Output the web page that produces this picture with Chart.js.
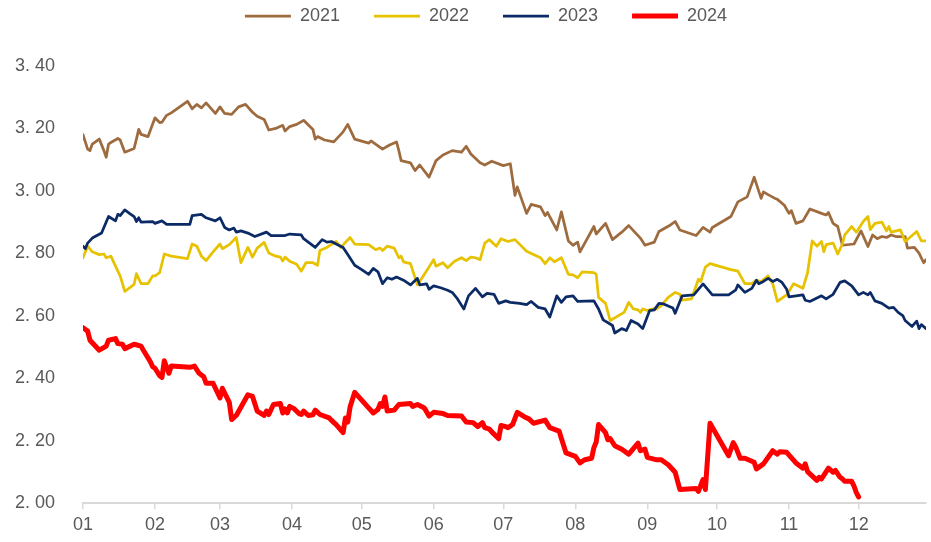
<!DOCTYPE html>
<html>
<head>
<meta charset="utf-8">
<title>2021-2024</title>
<script src="https://cdn.jsdelivr.net/npm/chart.js@4.4.1/dist/chart.umd.min.js"></script>
<style>
    html, body { margin: 0; padding: 0; background: #ffffff; }
    #yieldChart { display: block; }
</style>
</head>
<body>
<canvas id="yieldChart" width="931" height="542"></canvas>
<script>
/* ==========================================
   Daily yield by calendar year, 2021-2024
   x = day of year (0 = 1 Jan), y = yield
   ========================================== */

const monthStarts = [0, 31, 59, 90, 120, 151, 181, 212, 243, 273, 304, 334];
const monthLabels = ['01', '02', '03', '04', '05', '06', '07', '08', '09', '10', '11', '12'];
const seriesNames = ['2021', '2022', '2023', '2024'];

const days2021 = [0, 2, 3, 4, 7, 9, 10, 11, 12, 15, 16, 18, 22, 23, 24, 25, 28, 31, 33, 34, 36, 38, 45, 47, 49, 51, 53, 57, 59, 61, 64, 67, 70, 73, 75, 78, 80, 83, 86, 87, 89, 92, 95, 99, 100, 101, 104, 108, 111, 112, 114, 117, 123, 124, 129, 132, 135, 136, 137, 141, 143, 145, 149, 152, 155, 159, 163, 165, 167, 171, 173, 176, 181, 184, 186, 187, 191, 193, 197, 199, 200, 204, 206, 209, 211, 213, 214, 220, 221, 225, 228, 232, 235, 240, 242, 246, 248, 253, 255, 257, 264, 267, 270, 271, 279, 282, 286, 289, 292, 293, 295, 298, 299, 302, 304, 305, 307, 310, 313, 318, 320, 321, 323, 325, 327, 332, 335, 338, 340, 342, 344, 346, 348, 350, 354, 355, 358, 360, 362, 363];
const rate2021 = [3.180, 3.134, 3.129, 3.150, 3.166, 3.129, 3.108, 3.150, 3.155, 3.168, 3.163, 3.124, 3.136, 3.166, 3.197, 3.181, 3.174, 3.234, 3.219, 3.220, 3.242, 3.250, 3.287, 3.263, 3.277, 3.266, 3.282, 3.248, 3.269, 3.248, 3.245, 3.269, 3.277, 3.252, 3.239, 3.229, 3.195, 3.200, 3.210, 3.192, 3.206, 3.213, 3.226, 3.197, 3.166, 3.174, 3.163, 3.157, 3.181, 3.189, 3.213, 3.166, 3.153, 3.160, 3.134, 3.147, 3.157, 3.129, 3.097, 3.090, 3.065, 3.083, 3.044, 3.097, 3.115, 3.129, 3.124, 3.143, 3.118, 3.090, 3.083, 3.095, 3.081, 3.087, 2.986, 3.013, 2.928, 2.957, 2.949, 2.921, 2.931, 2.875, 2.933, 2.840, 2.826, 2.836, 2.805, 2.886, 2.862, 2.896, 2.844, 2.868, 2.889, 2.849, 2.826, 2.836, 2.870, 2.891, 2.902, 2.875, 2.857, 2.883, 2.868, 2.883, 2.918, 2.965, 2.981, 3.044, 2.976, 2.997, 2.988, 2.976, 2.973, 2.954, 2.928, 2.937, 2.896, 2.904, 2.942, 2.928, 2.923, 2.931, 2.896, 2.886, 2.826, 2.830, 2.872, 2.822, 2.859, 2.847, 2.854, 2.851, 2.859, 2.854, 2.854, 2.817, 2.819, 2.801, 2.770, 2.780];

const days2022 = [0, 2, 4, 7, 9, 10, 12, 15, 16, 18, 22, 23, 25, 28, 30, 31, 33, 35, 38, 45, 47, 49, 51, 53, 56, 59, 60, 63, 66, 68, 71, 73, 75, 78, 80, 83, 85, 86, 87, 89, 92, 94, 96, 99, 101, 102, 105, 109, 111, 115, 117, 123, 126, 128, 129, 131, 134, 136, 137, 138, 141, 144, 147, 151, 152, 155, 157, 160, 163, 165, 167, 169, 171, 173, 175, 178, 180, 183, 186, 191, 197, 199, 201, 203, 206, 209, 211, 213, 215, 220, 221, 222, 225, 227, 233, 235, 237, 239, 240, 241, 243, 245, 247, 249, 252, 255, 257, 258, 262, 265, 266, 268, 270, 279, 282, 285, 288, 290, 292, 295, 297, 299, 303, 306, 310, 312, 314, 316, 318, 319, 320, 323, 325, 327, 328, 331, 333, 336, 338, 339, 341, 344, 346, 347, 348, 352, 354, 359, 361, 363];
const rate2022 = [2.786, 2.823, 2.805, 2.796, 2.798, 2.786, 2.791, 2.743, 2.728, 2.678, 2.701, 2.735, 2.703, 2.703, 2.728, 2.728, 2.738, 2.798, 2.791, 2.783, 2.830, 2.823, 2.791, 2.777, 2.805, 2.830, 2.815, 2.828, 2.851, 2.770, 2.819, 2.788, 2.817, 2.835, 2.801, 2.791, 2.788, 2.775, 2.788, 2.775, 2.765, 2.743, 2.770, 2.770, 2.762, 2.809, 2.819, 2.838, 2.819, 2.851, 2.830, 2.828, 2.812, 2.817, 2.809, 2.823, 2.817, 2.786, 2.791, 2.773, 2.767, 2.699, 2.733, 2.780, 2.759, 2.770, 2.754, 2.775, 2.786, 2.777, 2.788, 2.786, 2.780, 2.833, 2.844, 2.823, 2.847, 2.838, 2.844, 2.807, 2.786, 2.767, 2.786, 2.773, 2.786, 2.733, 2.731, 2.722, 2.741, 2.738, 2.733, 2.659, 2.640, 2.585, 2.611, 2.643, 2.622, 2.619, 2.611, 2.622, 2.617, 2.622, 2.622, 2.633, 2.659, 2.675, 2.669, 2.650, 2.654, 2.717, 2.710, 2.756, 2.767, 2.748, 2.743, 2.703, 2.703, 2.714, 2.710, 2.728, 2.703, 2.646, 2.667, 2.703, 2.688, 2.738, 2.840, 2.823, 2.838, 2.805, 2.828, 2.833, 2.798, 2.830, 2.859, 2.886, 2.868, 2.902, 2.918, 2.876, 2.896, 2.900, 2.872, 2.886, 2.868, 2.875, 2.838, 2.870, 2.840, 2.840];

const days2023 = [0, 1, 2, 4, 8, 11, 14, 15, 16, 18, 20, 22, 23, 24, 25, 30, 31, 34, 36, 46, 47, 51, 53, 57, 59, 61, 63, 65, 66, 68, 71, 74, 79, 81, 87, 89, 94, 95, 100, 103, 105, 107, 109, 112, 114, 117, 120, 123, 125, 127, 129, 131, 133, 135, 138, 141, 144, 145, 148, 149, 151, 154, 157, 159, 161, 164, 166, 169, 172, 174, 177, 179, 182, 184, 188, 191, 193, 196, 199, 201, 204, 206, 208, 211, 213, 220, 222, 224, 228, 229, 232, 234, 236, 239, 241, 244, 246, 248, 250, 254, 255, 258, 263, 267, 271, 278, 281, 282, 285, 288, 290, 291, 293, 295, 297, 299, 301, 303, 304, 307, 310, 311, 313, 318, 320, 323, 326, 328, 331, 334, 336, 338, 339, 341, 344, 347, 349, 351, 353, 354, 357, 359, 360, 361, 363];
const rate2023 = [2.823, 2.815, 2.833, 2.849, 2.865, 2.918, 2.904, 2.925, 2.921, 2.939, 2.928, 2.918, 2.902, 2.914, 2.900, 2.902, 2.896, 2.904, 2.893, 2.893, 2.921, 2.925, 2.914, 2.904, 2.914, 2.883, 2.875, 2.881, 2.868, 2.872, 2.865, 2.854, 2.868, 2.857, 2.857, 2.862, 2.859, 2.847, 2.819, 2.844, 2.836, 2.838, 2.830, 2.819, 2.796, 2.762, 2.748, 2.733, 2.752, 2.741, 2.703, 2.722, 2.717, 2.724, 2.714, 2.699, 2.720, 2.699, 2.702, 2.685, 2.696, 2.690, 2.682, 2.675, 2.657, 2.622, 2.664, 2.688, 2.661, 2.672, 2.669, 2.640, 2.648, 2.643, 2.640, 2.636, 2.646, 2.627, 2.622, 2.596, 2.664, 2.643, 2.661, 2.664, 2.646, 2.648, 2.622, 2.587, 2.569, 2.545, 2.559, 2.553, 2.585, 2.574, 2.559, 2.617, 2.619, 2.640, 2.638, 2.625, 2.608, 2.664, 2.667, 2.702, 2.667, 2.667, 2.682, 2.699, 2.675, 2.688, 2.714, 2.703, 2.710, 2.720, 2.710, 2.717, 2.707, 2.685, 2.661, 2.664, 2.667, 2.650, 2.646, 2.664, 2.654, 2.669, 2.707, 2.712, 2.696, 2.667, 2.675, 2.667, 2.675, 2.648, 2.640, 2.625, 2.627, 2.611, 2.601, 2.585, 2.566, 2.583, 2.559, 2.572, 2.559];

const days2024 = [0, 2, 3, 5, 7, 10, 11, 14, 15, 17, 18, 22, 25, 26, 29, 30, 31, 33, 34, 35, 37, 38, 46, 48, 50, 52, 53, 56, 59, 60, 63, 64, 66, 71, 73, 75, 78, 79, 80, 82, 85, 86, 87, 88, 89, 91, 93, 94, 95, 97, 99, 100, 102, 106, 108, 109, 112, 113, 114, 115, 117, 123, 125, 127, 128, 129, 130, 131, 134, 136, 141, 142, 144, 147, 149, 151, 155, 157, 163, 165, 168, 170, 172, 173, 175, 177, 179, 180, 182, 183, 185, 187, 190, 192, 194, 199, 201, 205, 206, 208, 212, 214, 216, 219, 220, 221, 222, 225, 226, 227, 229, 232, 235, 239, 240, 242, 243, 247, 249, 252, 255, 257, 264, 265, 267, 268, 270, 278, 280, 281, 283, 285, 289, 290, 293, 297, 299, 300, 303, 307, 310, 311, 312, 316, 317, 318, 321, 323, 324, 326, 327, 328, 331, 332, 333, 334];
const rate2024 = [2.562, 2.551, 2.522, 2.506, 2.490, 2.503, 2.522, 2.527, 2.511, 2.509, 2.495, 2.509, 2.503, 2.490, 2.453, 2.437, 2.432, 2.408, 2.403, 2.456, 2.416, 2.439, 2.435, 2.439, 2.416, 2.405, 2.384, 2.384, 2.337, 2.368, 2.323, 2.268, 2.281, 2.347, 2.342, 2.295, 2.281, 2.295, 2.284, 2.316, 2.319, 2.289, 2.302, 2.289, 2.310, 2.302, 2.287, 2.284, 2.295, 2.281, 2.283, 2.298, 2.284, 2.273, 2.258, 2.252, 2.226, 2.273, 2.260, 2.308, 2.355, 2.305, 2.289, 2.300, 2.319, 2.310, 2.340, 2.295, 2.298, 2.316, 2.319, 2.310, 2.316, 2.305, 2.279, 2.291, 2.287, 2.281, 2.279, 2.260, 2.258, 2.245, 2.258, 2.242, 2.237, 2.221, 2.207, 2.249, 2.245, 2.242, 2.252, 2.291, 2.277, 2.270, 2.256, 2.266, 2.242, 2.231, 2.207, 2.161, 2.150, 2.129, 2.139, 2.144, 2.178, 2.196, 2.252, 2.226, 2.203, 2.207, 2.184, 2.173, 2.157, 2.192, 2.168, 2.173, 2.147, 2.139, 2.139, 2.123, 2.099, 2.044, 2.047, 2.038, 2.076, 2.044, 2.256, 2.152, 2.194, 2.181, 2.144, 2.144, 2.131, 2.110, 2.126, 2.168, 2.157, 2.165, 2.163, 2.129, 2.112, 2.126, 2.101, 2.073, 2.083, 2.078, 2.112, 2.099, 2.105, 2.083, 2.078, 2.070, 2.070, 2.055, 2.034, 2.020];

const labelColor = '#595959';
const labelFont = { family: "'Liberation Sans', Arial, sans-serif", size: 18 };

// pairs day/value arrays into {x, y} points for the linear x axis
function toPoints(days, rates) {
    return days.map((d, i) => ({ x: d, y: rates[i] }));
}

// legend sits inside a taller box so the plot starts lower on the page,
// and its row is nudged right a little
const legendSpacer = {
    id: 'legendSpacer',
    beforeInit(chart) {
        const baseFit = chart.legend.fit;
        chart.legend.fit = function () {
            baseFit.call(this);
            this.height = 93;
            if (this.lineWidths && this.lineWidths.length) {
                this.lineWidths[0] -= 46;
            }
        };
    }
};

document.addEventListener("DOMContentLoaded", () => {
    const ctx = document.getElementById("yieldChart");

    new Chart(ctx, {
        type: 'line',
        data: {
            datasets: [
                { label: seriesNames[0], data: toPoints(days2021, rate2021), borderColor: '#9E6B3F', backgroundColor: '#9E6B3F', borderWidth: 2.75, order: 4 },
                { label: seriesNames[1], data: toPoints(days2022, rate2022), borderColor: '#E6C200', backgroundColor: '#E6C200', borderWidth: 2.75, order: 3 },
                { label: seriesNames[2], data: toPoints(days2023, rate2023), borderColor: '#0B2A66', backgroundColor: '#0B2A66', borderWidth: 2.75, order: 2 },
                { label: seriesNames[3], data: toPoints(days2024, rate2024), borderColor: '#FF0000', backgroundColor: '#FF0000', borderWidth: 5, order: 1 }
            ]
        },
        options: {
            responsive: false,
            animation: false,
            layout: {
                padding: { top: -27, left: 0, right: 5, bottom: 0 }
            },
            elements: {
                point: { radius: 0, hoverRadius: 0 },
                line: { tension: 0, fill: false, borderJoinStyle: 'round', borderCapStyle: 'round' }
            },
            plugins: {
                legend: {
                    position: 'top',
                    align: 'center',
                    labels: {
                        usePointStyle: true,
                        pointStyle: 'line',
                        pointStyleWidth: 46,
                        padding: 34,
                        color: labelColor,
                        font: labelFont,
                        sort: (a, b) => a.datasetIndex - b.datasetIndex
                    }
                },
                tooltip: { enabled: false }
            },
            scales: {
                x: {
                    type: 'linear',
                    min: 0,
                    max: 363,
                    afterBuildTicks: (scale) => {
                        scale.ticks = monthStarts.map(v => ({ value: v }));
                    },
                    afterFit: (scale) => {
                        scale.height = 34;
                    },
                    ticks: {
                        autoSkip: false,
                        maxRotation: 0,
                        padding: 5,
                        color: labelColor,
                        font: labelFont,
                        callback: function(value) {
                            return monthLabels[monthStarts.indexOf(value)];
                        }
                    },
                    grid: {
                        drawOnChartArea: false,
                        drawTicks: true,
                        tickLength: 6,
                        color: '#D9D9D9',
                        lineWidth: 1.5
                    },
                    border: { display: true, color: '#D9D9D9', width: 2 }
                },
                y: {
                    min: 2.0,
                    max: 3.4,
                    afterFit: (scale) => {
                        scale.width = 83;
                    },
                    ticks: {
                        stepSize: 0.2,
                        padding: 28,
                        color: labelColor,
                        font: labelFont,
                        callback: function(value) {
                            return value.toFixed(2).replace('.', '. ');
                        }
                    },
                    grid: { display: false, drawTicks: false },
                    border: { display: false }
                }
            }
        },
        plugins: [legendSpacer]
    });
});
</script>
</body>
</html>
